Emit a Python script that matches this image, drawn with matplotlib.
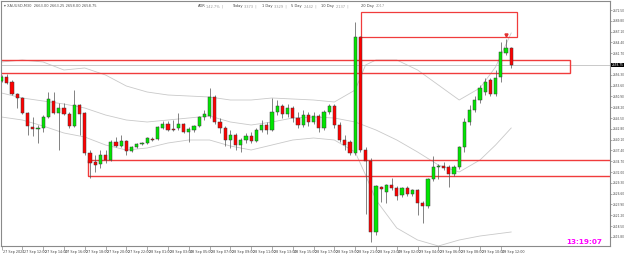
import matplotlib
matplotlib.use('Agg')
import matplotlib.pyplot as plt
from matplotlib.patches import Rectangle

# ---------------- data ----------------
opens = [2654.75, 2655.75, 2654.50, 2651.50, 2650.50, 2646.75, 2643.25, 2642.75, 2643.00, 2645.75,
         2649.75, 2646.75, 2648.00, 2646.50, 2643.50, 2648.75, 2646.75, 2636.75, 2634.50, 2634.00,
         2636.25, 2635.00, 2639.50, 2638.50, 2639.75, 2637.25, 2638.25, 2639.00, 2639.25, 2640.25,
         2640.25, 2643.00, 2644.00, 2642.75, 2643.00, 2644.00, 2642.00, 2642.50, 2643.50, 2645.75,
         2646.00, 2650.75, 2644.50, 2643.00, 2640.00, 2641.25, 2638.75, 2640.00, 2641.00, 2639.75,
         2642.50, 2643.75, 2642.50, 2647.00, 2648.50, 2646.50, 2648.00, 2645.50, 2643.75, 2646.25,
         2644.50, 2646.00, 2643.00, 2647.00, 2648.50, 2643.75, 2640.00, 2639.50, 2636.75, 2665.75,
         2637.50, 2634.75, 2617.00, 2628.25, 2627.00, 2628.75, 2628.00, 2626.25, 2628.00, 2626.50,
         2627.50, 2624.25, 2623.50, 2630.25, 2633.25, 2633.50, 2633.25, 2631.50, 2633.25, 2638.25,
         2644.50, 2647.50, 2650.00, 2652.00, 2655.00, 2651.50, 2655.75, 2661.75, 2663.00]
highs = [2656.25, 2656.50, 2655.00, 2651.75, 2650.75, 2647.00, 2645.75, 2643.75, 2646.25, 2652.00,
         2652.00, 2649.25, 2649.25, 2647.00, 2652.50, 2649.00, 2647.00, 2637.50, 2636.25, 2637.50,
         2637.50, 2640.00, 2640.75, 2641.25, 2640.00, 2638.50, 2639.25, 2639.50, 2640.75, 2640.75,
         2643.50, 2644.75, 2644.75, 2645.00, 2646.75, 2644.25, 2643.25, 2643.75, 2646.00, 2647.50,
         2653.00, 2651.25, 2645.50, 2643.50, 2642.50, 2641.75, 2640.50, 2641.75, 2642.00, 2643.00,
         2645.00, 2644.50, 2650.50, 2650.00, 2649.00, 2649.00, 2648.50, 2647.00, 2647.50, 2647.00,
         2647.00, 2646.50, 2647.50, 2649.00, 2649.00, 2644.50, 2641.25, 2640.00, 2669.50, 2666.00,
         2638.25, 2635.50, 2628.75, 2628.50, 2629.00, 2630.50, 2628.50, 2628.25, 2628.50, 2627.75,
         2627.75, 2624.75, 2630.50, 2636.00, 2634.00, 2634.50, 2633.75, 2633.75, 2638.50, 2645.50,
         2648.75, 2651.00, 2653.75, 2655.50, 2655.50, 2657.50, 2664.50, 2665.25, 2663.25]
lows = [2654.50, 2654.00, 2651.25, 2648.00, 2646.50, 2641.25, 2641.00, 2639.25, 2642.00, 2645.50,
        2646.50, 2637.50, 2646.25, 2643.00, 2643.25, 2641.25, 2636.25, 2630.50, 2632.00, 2633.00,
        2634.25, 2634.75, 2638.25, 2638.25, 2636.25, 2637.00, 2638.00, 2638.75, 2639.00, 2639.75,
        2640.00, 2642.75, 2642.25, 2642.25, 2642.50, 2641.75, 2639.50, 2642.00, 2643.25, 2645.00,
        2645.50, 2644.00, 2641.75, 2638.50, 2638.00, 2637.50, 2637.00, 2639.25, 2639.25, 2639.50,
        2642.00, 2641.50, 2642.25, 2646.25, 2645.50, 2645.75, 2644.50, 2643.00, 2643.25, 2643.50,
        2644.00, 2642.00, 2642.50, 2646.50, 2643.00, 2639.50, 2637.50, 2636.25, 2636.25, 2637.00,
        2621.50, 2614.50, 2616.25, 2624.50, 2624.25, 2627.50, 2625.00, 2625.75, 2626.00, 2626.00,
        2621.25, 2619.25, 2623.00, 2629.75, 2630.25, 2632.50, 2628.25, 2631.00, 2632.75, 2637.00,
        2643.75, 2647.00, 2649.25, 2651.25, 2651.00, 2651.00, 2654.50, 2661.25, 2658.00]
closes = [2655.75, 2654.25, 2651.50, 2650.50, 2646.75, 2643.50, 2642.75, 2643.00, 2645.75, 2650.25,
          2646.75, 2648.00, 2646.50, 2643.50, 2648.75, 2646.50, 2636.75, 2634.25, 2633.75, 2636.25,
          2635.00, 2639.50, 2638.50, 2639.75, 2637.25, 2638.25, 2639.00, 2639.10, 2640.50, 2640.10,
          2643.25, 2644.00, 2642.50, 2642.60, 2644.00, 2642.00, 2642.75, 2643.50, 2645.75, 2646.50,
          2650.75, 2644.50, 2643.00, 2640.00, 2641.25, 2638.75, 2640.00, 2641.00, 2639.75, 2642.50,
          2643.75, 2642.50, 2647.00, 2648.50, 2646.50, 2648.00, 2645.50, 2643.75, 2646.25, 2644.50,
          2646.00, 2643.00, 2647.00, 2648.50, 2643.75, 2640.00, 2638.75, 2636.75, 2665.75, 2637.50,
          2634.75, 2617.00, 2628.50, 2627.75, 2628.75, 2628.00, 2626.00, 2628.00, 2626.50, 2627.50,
          2624.25, 2623.50, 2630.25, 2633.25, 2633.50, 2633.00, 2631.50, 2633.25, 2638.25, 2644.50,
          2647.50, 2650.00, 2653.00, 2654.50, 2651.50, 2655.50, 2662.00, 2663.00, 2658.75]

band_idx = [0, 4, 8, 12, 16, 20, 24, 28, 32, 36, 40, 44, 48, 52, 56, 60, 64, 68, 70, 72, 76, 80, 84, 88, 92, 95, 98]
band_upper = [2659.50, 2660.00, 2659.50, 2657.50, 2658.00, 2656.25, 2653.50, 2652.00, 2651.25, 2651.00,
              2650.75, 2650.00, 2650.00, 2650.50, 2650.25, 2650.00, 2649.50, 2652.50, 2658.75, 2660.00,
              2660.00, 2657.50, 2653.75, 2650.00, 2653.00, 2658.25, 2666.75]
band_lower = [2645.75, 2645.00, 2643.50, 2641.75, 2640.75, 2638.75, 2637.50, 2638.00, 2639.25, 2640.00,
              2640.00, 2638.50, 2637.50, 2638.75, 2640.00, 2640.50, 2640.00, 2637.00, 2631.25, 2625.00,
              2618.00, 2615.00, 2613.50, 2615.00, 2616.00, 2616.50, 2617.00]
mid_idx = [0, 4, 8, 12, 16, 20, 24, 28, 32, 36, 40, 44, 48, 52, 56, 60, 64, 68, 72, 76, 80, 84, 88, 92, 95, 98]
band_mid = [2651.75, 2650.50, 2649.75, 2649.00, 2648.00, 2646.25, 2645.00, 2644.50, 2645.00, 2645.50,
            2646.00, 2644.50, 2643.75, 2644.50, 2645.50, 2645.75, 2645.50, 2644.50, 2642.50, 2640.00,
            2637.00, 2633.75, 2632.00, 2635.00, 2638.75, 2643.00]

time_labels = ["27 Sep 2024", "27 Sep 12:00", "27 Sep 14:00", "27 Sep 16:00", "27 Sep 18:00",
               "27 Sep 20:00", "27 Sep 22:00", "28 Sep 01:00", "28 Sep 03:00", "28 Sep 05:00",
               "28 Sep 07:00", "28 Sep 09:00", "28 Sep 11:00", "28 Sep 13:00", "28 Sep 15:00",
               "28 Sep 17:00", "28 Sep 19:00", "28 Sep 21:00", "28 Sep 23:00", "29 Sep 02:00",
               "29 Sep 04:00", "29 Sep 06:00", "29 Sep 08:00", "29 Sep 10:00", "29 Sep 12:00"]
price_ticks = [2672.50 - 2.70 * k for k in range(22) if k != 5]

current_price = 2658.75
zone_top = (2665.75, 2672.00)
zone_mid = (2656.75, 2660.00)
zone_low = (2631.00, 2635.00)

# ---------------- figure ----------------
W, H = 625, 254
fig = plt.figure(figsize=(W / 100, H / 100), dpi=100)
ax = fig.add_axes([1 / W, 8 / H, 609 / W, 245 / H])
ax.set_xlim(-0.1, 117.0)
ax.set_ylim(2613.5, 2674.75)

# bands
band_col = '#c9c9c9'
ax.plot(band_idx, band_upper, color=band_col, lw=0.6, zorder=1)
ax.plot(band_idx, band_lower, color=band_col, lw=0.6, zorder=1)
ax.plot(mid_idx, band_mid, color=band_col, lw=0.6, zorder=1)

# current price line
ax.axhline(current_price, color='#c0c0c0', lw=0.6, zorder=1)

# zones
zc = '#f03c3c'
ax.add_patch(Rectangle((69.2, zone_top[0]), 30.0, zone_top[1] - zone_top[0],
                       fill=False, edgecolor=zc, lw=0.9, zorder=2))
ax.add_patch(Rectangle((-1, zone_mid[0]), 110.3, zone_mid[1] - zone_mid[0],
                       fill=False, edgecolor=zc, lw=1.0, zorder=2))
ax.add_patch(Rectangle((16.7, zone_low[0]), 110, zone_low[1] - zone_low[0],
                       fill=False, edgecolor=zc, lw=1.0, zorder=2))

# candles
bw = 0.62
for i, (o, h, l, c) in enumerate(zip(opens, highs, lows, closes)):
    up = c >= o
    col = '#00e600' if up else '#ff0000'
    ax.vlines(i, l, h, color='#505050', lw=0.5, zorder=3)
    bottom = min(o, c)
    height = max(abs(c - o), 0.15)
    ax.bar(i, height, bottom=bottom, width=bw, color=col, edgecolor='#3a3a3a',
           linewidth=0.35, zorder=4)

# small marker
ax.plot([97], [2666.2], marker='v', color='#e03030', markersize=2.2, zorder=5)

# axes styling
for s in ax.spines.values():
    s.set_color('#8a8a8a')
    s.set_linewidth(0.8)
ax.yaxis.tick_right()
ax.set_yticks(price_ticks)
ax.set_yticklabels([f"{p:.2f}" for p in price_ticks])
ax.tick_params(axis='y', length=1.2, width=0.5, colors='#8a8a8a', labelsize=2.1,
               labelcolor='#444444', pad=0.6)
ax.set_xticks([4 * k for k in range(len(time_labels))])
ax.set_xticklabels([])
ax.tick_params(axis='x', length=3, width=0.5, colors='#8a8a8a', direction='out')
for k, lab in enumerate(time_labels):
    ax.text(4 * k + 0.3, -0.016, lab, transform=ax.get_xaxis_transform(), ha='left',
            va='top', fontsize=2.4, color='#444444', clip_on=False)

# current price label
ax.text(1.0025, current_price, f"{current_price:.2f}", transform=ax.get_yaxis_transform(),
        ha='left', va='center', fontsize=2.1, color='white', clip_on=False,
        bbox=dict(boxstyle='square,pad=0.12', fc='black', ec='none'))

# header texts
fig.text(4 / W, 1 - 6 / H, "\u25be XAUUSD,M30  2663.00 2663.25 2658.00 2658.75", fontsize=2.6,
         color='#555555', va='center', ha='left')
hdr = [("ADR", "142.7%", 198), ("Today", "3373", 232), ("1 Day", "3329", 262),
       ("5 Day", "2442", 291), ("10 Day", "2137", 321), ("20 Day", "2017", 361)]
for name, val, x in hdr:
    fig.text(x / W, 1 - 6 / H, name, fontsize=2.6, color='#444444', va='center', ha='left')
    fig.text((x + len(name) * 2.3 + 1) / W, 1 - 6 / H, val + ("  |" if name != "20 Day" else ""),
             fontsize=2.6, color='#999999', va='center', ha='left')

# clock
fig.text(602 / W, 1 - 242 / H, "13:19:07", fontsize=5.2, color='#ff00ff',
         fontweight='bold', ha='right', va='center')

fig.savefig('out.png', dpi=100, facecolor='white')
